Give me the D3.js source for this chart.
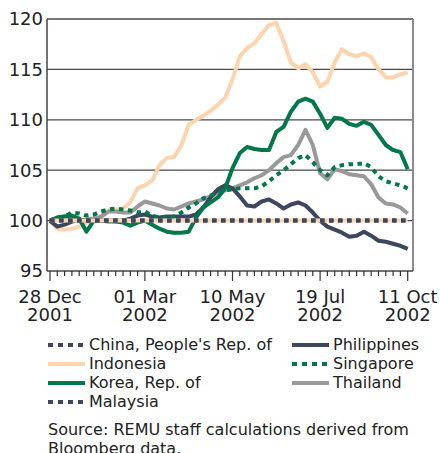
<!DOCTYPE html>
<html>
<head>
<meta charset="utf-8">
<script src="https://cdn.jsdelivr.net/npm/d3@7"></script>
<style>
  body { margin: 0; background: #fff; }
  text { font-family: "DejaVu Sans", Verdana, sans-serif; fill: #222; }
</style>
</head>
<body>
<svg id="chart" width="440" height="453"></svg>
<script>
// weekly index levels, 28 Dec 2001 = 100
var tickLabels = [
    {i: 0, l1: "28 Dec", l2: "2001"},
    {i: 13, l1: "01 Mar", l2: "2002"},
    {i: 25, l1: "10 May", l2: "2002"},
    {i: 37, l1: "19 Jul", l2: "2002"},
    {i: 49, l1: "11 Oct", l2: "2002"}
];
var yTicks = [95, 100, 105, 110, 115, 120];

var china = [100,100,100,100,100,100,100,100,100,100,100,100,100,100,100,100,100,100,100,100,100,100,100,100,100,
             100,100,100,100,100,100,100,100,100,100,100,100,100,100,100,100,100,100,100,100,100,100,100,100,100];
var malaysia = china.slice();
var indonesia = [100.0,99.2,99.1,99.2,99.4,99.8,100.0,100.5,101.0,101.1,101.2,101.8,103.2,103.5,104.0,105.5,106.2,106.3,107.5,109.5,
                 110.0,110.4,110.9,111.5,112.2,114.0,116.3,117.1,117.6,118.5,119.4,119.6,117.8,115.7,115.1,115.5,114.7,113.3,113.8,115.7,
                 117.0,116.5,116.3,116.6,116.2,115.0,114.2,114.2,114.5,114.7];
var korea = [100.0,100.3,100.4,100.5,100.2,98.9,100.0,100.0,99.9,99.9,99.8,99.5,99.8,100.0,99.6,99.2,98.9,98.8,98.8,98.9,
             100.3,101.3,101.8,102.3,103.2,105.2,106.7,107.3,107.1,107.0,107.0,108.8,109.3,110.8,111.8,112.1,111.8,110.6,109.2,110.2,
             110.1,109.6,109.4,109.8,109.5,108.5,107.5,107.0,106.8,105.1];
var philippines = [100.0,99.4,99.6,99.9,100.1,100.0,100.0,100.0,100.0,100.0,100.0,100.2,100.5,100.6,100.4,100.3,100.4,100.4,100.4,100.4,
                   100.6,101.3,102.3,103.1,103.5,103.2,102.4,101.5,101.4,101.9,102.1,101.7,101.2,101.6,101.8,101.5,100.8,100.0,99.4,99.1,
                   98.8,98.4,98.5,98.9,98.5,98.0,97.9,97.7,97.5,97.2];
var singapore = [100.0,100.3,100.4,100.8,100.7,100.5,100.6,100.9,101.1,101.2,101.1,101.0,100.8,100.9,100.5,100.3,100.2,100.4,100.8,101.3,
                 101.7,102.2,102.5,102.7,103.0,103.1,103.2,103.2,103.2,103.4,103.9,104.5,105.0,105.6,106.2,106.5,105.8,105.0,104.5,105.3,
                 105.5,105.6,105.6,105.7,105.3,104.4,103.9,103.7,103.5,103.2];
var thailand = [100.0,100.3,100.4,100.3,100.0,100.1,100.2,100.4,100.9,100.9,100.8,100.8,101.4,101.9,101.7,101.5,101.2,101.1,101.4,101.7,
                101.9,102.1,102.4,102.8,103.0,103.2,103.5,103.8,104.2,104.5,105.0,105.7,106.3,106.5,107.5,109.0,107.5,104.7,104.1,105.1,
                104.9,104.6,104.5,104.4,103.6,102.3,101.7,101.6,101.3,100.7];

var navy = "#3d465e", peach = "#fdd4ad", green = "#00784a", grey = "#999999";

var series = [
    {name: "China, People's Rep. of", values: china, color: navy, dash: "4.5,4.5", col: 0, row: 0},
    {name: "Indonesia", values: indonesia, color: peach, dash: null, col: 0, row: 1},
    {name: "Korea, Rep. of", values: korea, color: green, dash: null, col: 0, row: 2},
    {name: "Malaysia", values: malaysia, color: navy, dash: "4.5,4.5", col: 0, row: 3},
    {name: "Philippines", values: philippines, color: navy, dash: null, col: 1, row: 0},
    {name: "Singapore", values: singapore, color: green, dash: "4.5,4.5", col: 1, row: 1},
    {name: "Thailand", values: thailand, color: grey, dash: null, col: 1, row: 2}
];

var svg = d3.select("#chart");

var plot = {left: 47, right: 413, top: 19, bottom: 271};

var x = d3.scaleLinear().domain([0, 49]).range([50, 407.7]);
var y = d3.scaleLinear().domain([95, 120]).range([plot.bottom, plot.top]);

// gridlines
svg.append("g").selectAll("line")
    .data(yTicks.filter(d => d > 95))
    .join("line")
    .attr("x1", plot.left).attr("x2", plot.right)
    .attr("y1", d => y(d)).attr("y2", d => y(d))
    .attr("stroke", "#4a4a4a")
    .attr("stroke-width", 1.3);

// right border
svg.append("line")
    .attr("x1", plot.right).attr("x2", plot.right)
    .attr("y1", plot.top).attr("y2", plot.bottom)
    .attr("stroke", "#8c8c8c")
    .attr("stroke-width", 2);

// y labels
svg.append("g").selectAll("text")
    .data(yTicks)
    .join("text")
    .attr("x", 43)
    .attr("y", d => y(d))
    .attr("dy", "0.36em")
    .attr("text-anchor", "end")
    .style("font-size", "18px")
    .text(d => d);

// lines
var line = d3.line()
    .x((d, i) => x(i))
    .y(d => y(d));

var drawOrder = [1, 6, 4, 2, 5];
drawOrder.forEach(function(k) {
    var s = series[k];
    svg.append("path")
        .datum(s.values)
        .attr("d", line)
        .attr("fill", "none")
        .attr("stroke", s.color)
        .attr("stroke-width", 4)
        .attr("stroke-linejoin", "round")
        .attr("stroke-dasharray", s.dash);
});

// pegged currencies at 100: peach underlay with navy dots
svg.append("path")
    .datum(malaysia)
    .attr("d", line)
    .attr("fill", "none")
    .attr("stroke", peach)
    .attr("stroke-width", 4);
[series[0], series[3]].forEach(function(s) {
    svg.append("path")
        .datum(s.values)
        .attr("d", line)
        .attr("fill", "none")
        .attr("stroke", s.color)
        .attr("stroke-width", 4)
        .attr("stroke-dasharray", s.dash);
});

// axes frame
svg.append("line")
    .attr("x1", plot.left).attr("x2", plot.left)
    .attr("y1", plot.top).attr("y2", plot.bottom)
    .attr("stroke", "#444").attr("stroke-width", 1.5);
svg.append("line")
    .attr("x1", plot.left).attr("x2", plot.right)
    .attr("y1", plot.bottom).attr("y2", plot.bottom)
    .attr("stroke", "#444").attr("stroke-width", 1.5);

// x ticks
var majors = tickLabels.map(d => d.i);
svg.append("g").selectAll("line")
    .data(d3.range(0, 50))
    .join("line")
    .attr("x1", d => x(d)).attr("x2", d => x(d))
    .attr("y1", plot.bottom)
    .attr("y2", d => plot.bottom + (majors.indexOf(d) >= 0 ? 10 : 5))
    .attr("stroke", "#333")
    .attr("stroke-width", 1.2);

var xg = svg.append("g");
xg.selectAll("text.l1")
    .data(tickLabels)
    .join("text")
    .attr("class", "l1")
    .attr("x", d => x(d.i))
    .attr("y", 303)
    .attr("text-anchor", "middle")
    .style("font-size", "18px")
    .text(d => d.l1);
xg.selectAll("text.l2")
    .data(tickLabels)
    .join("text")
    .attr("class", "l2")
    .attr("x", d => x(d.i))
    .attr("y", 321)
    .attr("text-anchor", "middle")
    .style("font-size", "18px")
    .text(d => d.l2);

// legend
var legend = svg.append("g").selectAll("g")
    .data(series)
    .join("g")
    .attr("transform", d => "translate(" + (d.col ? 292 : 48) + "," + (345 + d.row * 19) + ")");
legend.append("line")
    .attr("x1", 0).attr("x2", 37)
    .attr("y1", 0).attr("y2", 0)
    .attr("stroke", d => d.color)
    .attr("stroke-width", 4)
    .attr("stroke-dasharray", d => d.dash ? "5,5" : null);
legend.append("text")
    .attr("x", 41)
    .attr("y", 0)
    .attr("dy", "0.33em")
    .style("font-size", "16px")
    .text(d => d.name);

// source note
svg.append("text")
    .attr("x", 48)
    .attr("y", 435)
    .style("font-size", "16px")
    .text("Source: REMU staff calculations derived from");
svg.append("text")
    .attr("x", 48)
    .attr("y", 454)
    .style("font-size", "16px")
    .text("Bloomberg data.");
</script>
</body>
</html>
